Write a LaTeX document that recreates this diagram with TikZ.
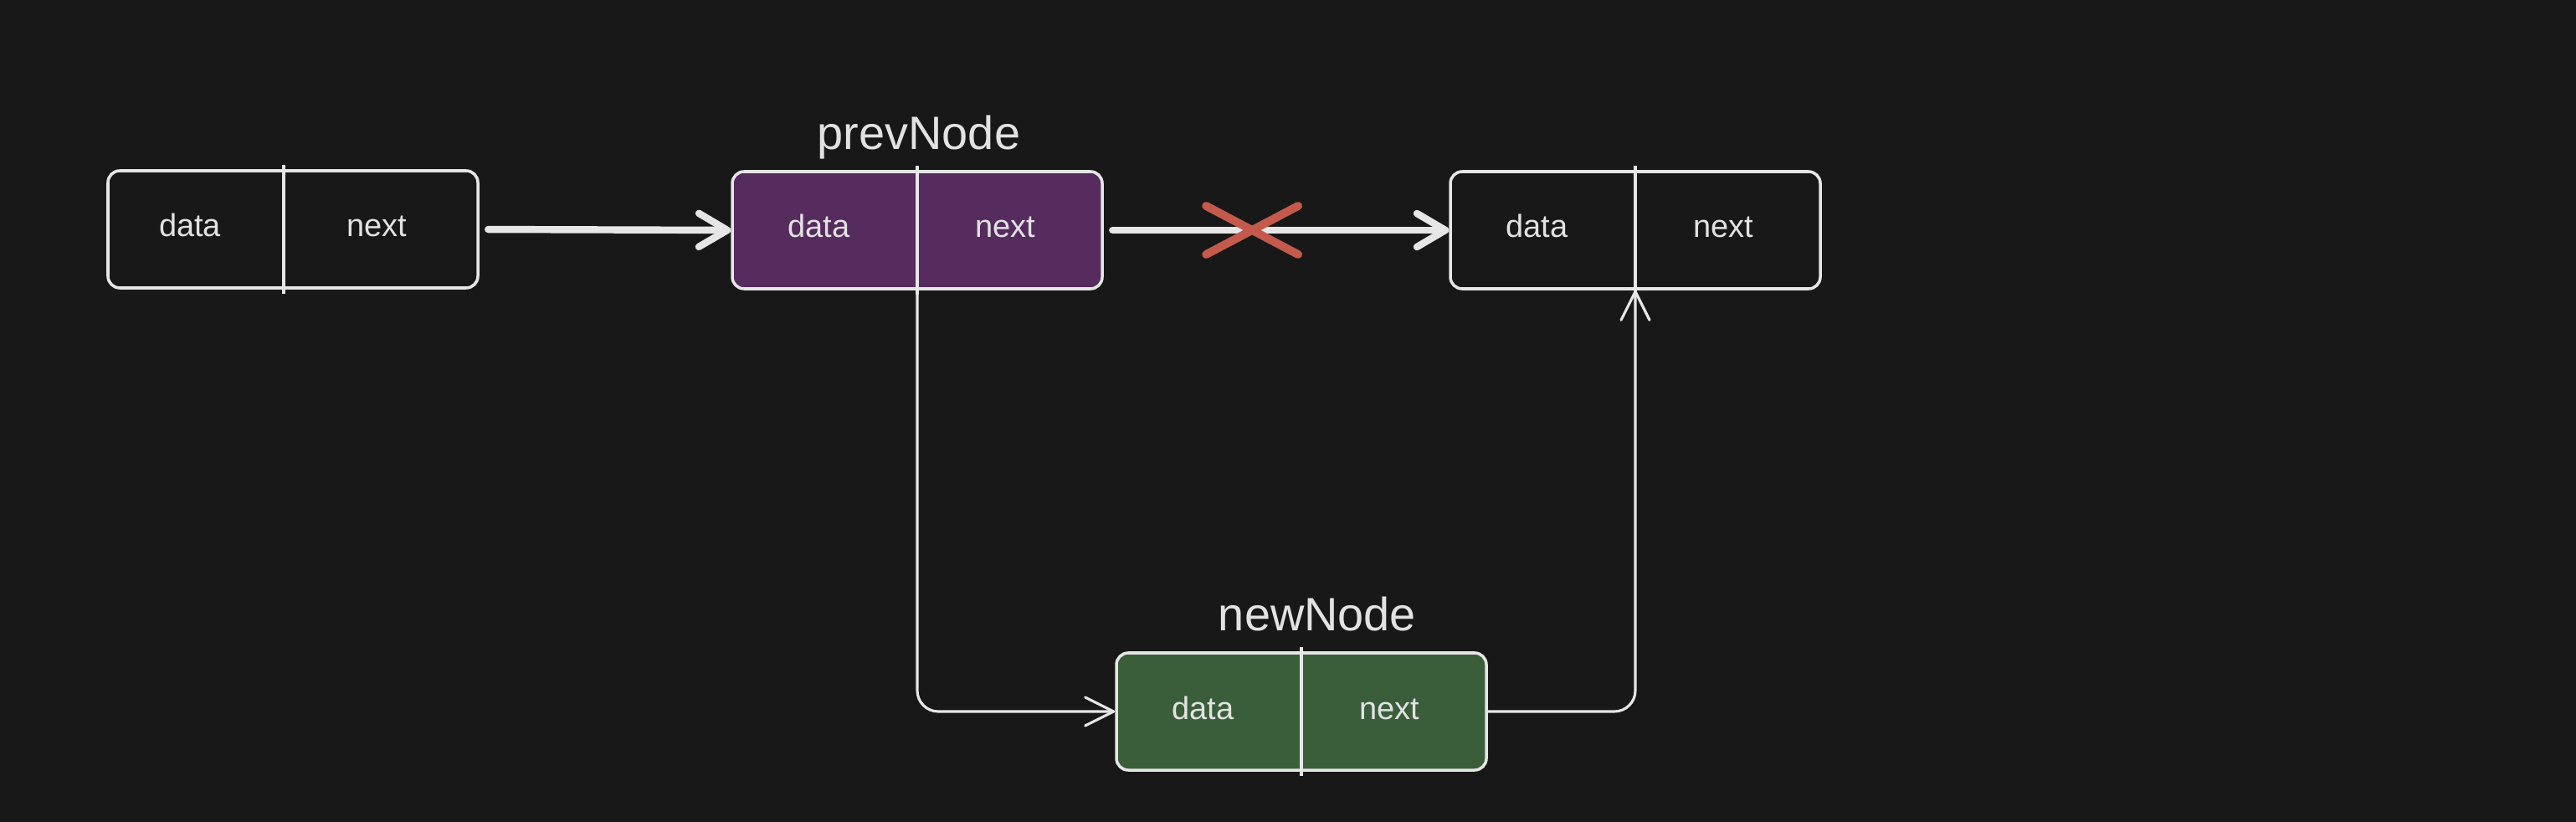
\documentclass[tikz,border=0pt]{standalone}
\usepackage{fontspec}
\setmainfont{Liberation Sans}
\usepackage{xcolor}
\definecolor{BGCOLOR}{HTML}{181818}
\definecolor{LINECOLOR}{HTML}{E6E6E6}
\definecolor{TEXTCOLOR}{HTML}{E2E2E2}
\definecolor{PREVCOLOR}{HTML}{562B5E}
\definecolor{NEWCOLOR}{HTML}{3A5E3A}
\definecolor{CROSSCOLOR}{HTML}{C45A4C}
\usepackage{tikz}
\usetikzlibrary{arrows.meta,positioning,calc,backgrounds}
\newcommand\fieldFont{\fontsize{10.8}{13}\selectfont}
\newcommand\labelFont{\fontsize{15.9}{19}\selectfont}
\tikzset{
  basic-style/.style = {
    rectangle, rounded corners=4pt, draw=LINECOLOR, line width=1pt,
    fill=#1,
    minimum height=1.40cm,
    minimum width=4.42cm,
    inner sep=0pt
  },
  plain-style/.style = {
    basic-style=BGCOLOR
  },
  prev-style/.style = {
    basic-style=PREVCOLOR
  },
  new-style/.style = {
    basic-style=NEWCOLOR
  },
  divider-style/.style = {
    draw=LINECOLOR, line width=0.9pt
  },
  field-style/.style = {
    text=TEXTCOLOR, font=\fieldFont, anchor=base, inner sep=0pt,
    xshift=-0.06cm
  },
  label-style/.style = {
    text=TEXTCOLOR, font=\labelFont, inner sep=0pt, text depth=0pt
  },
  link-style/.style = {
    draw=LINECOLOR, line width=2.4pt, line cap=round,
    -{Straight Barb[round, length=0.34cm, width=0.40cm]}
  },
  bend-style/.style = {
    draw=LINECOLOR, line width=0.9pt, rounded corners=0.25cm,
    -{Straight Barb[round, length=0.34cm, width=0.34cm]}
  },
  cross-style/.style = {
    draw=CROSSCOLOR, line width=2.8pt, line cap=round
  },
  main-style/.style = {
    execute at end picture = {
      \begin{pgfonlayer}{background}
        \path[fill=BGCOLOR]
          (current bounding box.south west) rectangle
          (current bounding box.north east);
      \end{pgfonlayer}
    }
  }
}
\def\createCell name:#1 style:#2 at:#3 split:#4;{
  \node [#2] (#1) at (#3) {};
  \coordinate (#1-top) at ([xshift=#4]#1.north);
  \coordinate (#1-bottom) at ([xshift=#4]#1.south);
  \draw [divider-style] ([yshift=0.05cm]#1-top) -- ([yshift=-0.05cm]#1-bottom);
  \node [field-style] (#1-data) at ($(#1.west)!0.5!(#1-bottom |- #1.center)+(0,-0.09)$) {data};
  \node [field-style] (#1-next) at ($(#1-bottom |- #1.center)!0.5!(#1.east)+(0,-0.09)$) {next};
}
\def\createLabel name:#1 display:#2 to:#3 shift:#4;{
  \node [label-style, above=0.24cm of #3, xshift=#4] (#1) {#2};
}

\begin{document}
\begin{tikzpicture}[main-style]
  \useasboundingbox (0,0) rectangle (30.78,-9.82);
  \createCell name:first style:plain-style at:3.50,-2.74 split:-0.11cm;
  \createCell name:prev style:prev-style at:10.96,-2.75 split:0cm;
  \createCell name:succ style:plain-style at:19.54,-2.75 split:0cm;
  \createCell name:new style:new-style at:15.55,-8.50 split:0cm;

  \createLabel name:prevLabel display:prevNode to:prev shift:0.02cm;
  \createLabel name:newLabel display:newNode to:new shift:0.19cm;

  \draw [link-style, shorten <=3pt] (first.east) -- (prev.west);
  \draw [link-style, shorten <=3pt] (prev.east) -- (succ.west);
  \coordinate (cut) at ($(prev.east)!0.43!(succ.west)$);
  \draw [cross-style] ([shift={(-0.55,-0.29)}]cut) -- ([shift={(0.55,0.29)}]cut);
  \draw [cross-style] ([shift={(-0.55,0.29)}]cut) -- ([shift={(0.55,-0.29)}]cut);

  \draw [bend-style] (prev.south) |- (new.west);
  \draw [bend-style] (new.east) -| (succ.south);
\end{tikzpicture}
\end{document}
